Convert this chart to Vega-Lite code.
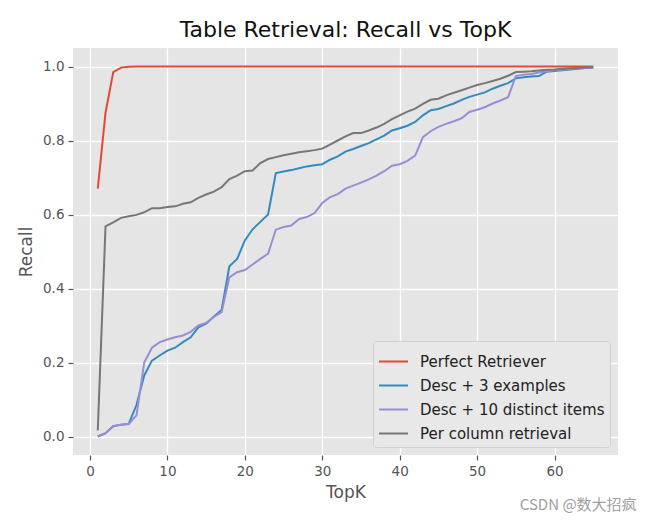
{
  "$schema": "https://vega.github.io/schema/vega-lite/v6.json",
  "autosize": "none",
  "width": 545,
  "height": 407,
  "padding": {"left": 73, "top": 48, "right": 35, "bottom": 69},
  "background": "white",
  "config": {
    "font": "DejaVu Sans",
    "view": {"fill": "#E5E5E5", "stroke": null},
    "axis": {
      "grid": true, "gridColor": "#FFFFFF", "gridWidth": 1.3,
      "domain": false,
      "tickColor": "#555555", "tickSize": 5, "tickWidth": 1.2,
      "labelColor": "#555555", "labelFontSize": 13.5, "labelPadding": 4,
      "titleColor": "#555555", "titleFontSize": 17, "titleFontWeight": "normal"
    }
  },
  "title": {"text": "Table Retrieval: Recall vs TopK", "fontSize": 22, "fontWeight": "normal", "color": "#111111", "offset": 6, "anchor": "middle"},
  "layer": [
    {
      "data": {"values": [
        {"k":1,"pr":0.67,"d3":0.0,"d10":0.0,"pc":0.016},
        {"k":2,"pr":0.875,"d3":0.009,"d10":0.009,"pc":0.568},
        {"k":3,"pr":0.985,"d3":0.028,"d10":0.028,"pc":0.579},
        {"k":4,"pr":0.997,"d3":0.032,"d10":0.032,"pc":0.591},
        {"k":5,"pr":0.999,"d3":0.034,"d10":0.034,"pc":0.595},
        {"k":6,"pr":1.0,"d3":0.085,"d10":0.057,"pc":0.599},
        {"k":7,"pr":1.0,"d3":0.165,"d10":0.2,"pc":0.606},
        {"k":8,"pr":1.0,"d3":0.205,"d10":0.24,"pc":0.617},
        {"k":9,"pr":1.0,"d3":0.219,"d10":0.255,"pc":0.617},
        {"k":10,"pr":1.0,"d3":0.232,"d10":0.262,"pc":0.62},
        {"k":11,"pr":1.0,"d3":0.24,"d10":0.268,"pc":0.622},
        {"k":12,"pr":1.0,"d3":0.255,"d10":0.273,"pc":0.629},
        {"k":13,"pr":1.0,"d3":0.268,"d10":0.283,"pc":0.633},
        {"k":14,"pr":1.0,"d3":0.295,"d10":0.3,"pc":0.645},
        {"k":15,"pr":1.0,"d3":0.305,"d10":0.307,"pc":0.654},
        {"k":16,"pr":1.0,"d3":0.324,"d10":0.323,"pc":0.662},
        {"k":17,"pr":1.0,"d3":0.342,"d10":0.336,"pc":0.674},
        {"k":18,"pr":1.0,"d3":0.46,"d10":0.43,"pc":0.696},
        {"k":19,"pr":1.0,"d3":0.48,"d10":0.444,"pc":0.705},
        {"k":20,"pr":1.0,"d3":0.53,"d10":0.45,"pc":0.717},
        {"k":21,"pr":1.0,"d3":0.56,"d10":0.465,"pc":0.719},
        {"k":22,"pr":1.0,"d3":0.58,"d10":0.48,"pc":0.739},
        {"k":23,"pr":1.0,"d3":0.6,"d10":0.494,"pc":0.75},
        {"k":24,"pr":1.0,"d3":0.712,"d10":0.559,"pc":0.755},
        {"k":25,"pr":1.0,"d3":0.716,"d10":0.566,"pc":0.76},
        {"k":26,"pr":1.0,"d3":0.72,"d10":0.57,"pc":0.764},
        {"k":27,"pr":1.0,"d3":0.725,"d10":0.588,"pc":0.768},
        {"k":28,"pr":1.0,"d3":0.73,"d10":0.593,"pc":0.771},
        {"k":29,"pr":1.0,"d3":0.733,"d10":0.604,"pc":0.774},
        {"k":30,"pr":1.0,"d3":0.736,"d10":0.631,"pc":0.778},
        {"k":31,"pr":1.0,"d3":0.748,"d10":0.647,"pc":0.789},
        {"k":32,"pr":1.0,"d3":0.757,"d10":0.655,"pc":0.8},
        {"k":33,"pr":1.0,"d3":0.77,"d10":0.67,"pc":0.811},
        {"k":34,"pr":1.0,"d3":0.777,"d10":0.678,"pc":0.82},
        {"k":35,"pr":1.0,"d3":0.785,"d10":0.686,"pc":0.82},
        {"k":36,"pr":1.0,"d3":0.793,"d10":0.695,"pc":0.827},
        {"k":37,"pr":1.0,"d3":0.803,"d10":0.705,"pc":0.835},
        {"k":38,"pr":1.0,"d3":0.813,"d10":0.717,"pc":0.845},
        {"k":39,"pr":1.0,"d3":0.827,"d10":0.732,"pc":0.858},
        {"k":40,"pr":1.0,"d3":0.833,"d10":0.736,"pc":0.868},
        {"k":41,"pr":1.0,"d3":0.84,"d10":0.745,"pc":0.878},
        {"k":42,"pr":1.0,"d3":0.85,"d10":0.759,"pc":0.886},
        {"k":43,"pr":1.0,"d3":0.868,"d10":0.809,"pc":0.899},
        {"k":44,"pr":1.0,"d3":0.882,"d10":0.825,"pc":0.91},
        {"k":45,"pr":1.0,"d3":0.885,"d10":0.837,"pc":0.913},
        {"k":46,"pr":1.0,"d3":0.893,"d10":0.845,"pc":0.922},
        {"k":47,"pr":1.0,"d3":0.9,"d10":0.852,"pc":0.929},
        {"k":48,"pr":1.0,"d3":0.91,"d10":0.86,"pc":0.936},
        {"k":49,"pr":1.0,"d3":0.918,"d10":0.877,"pc":0.943},
        {"k":50,"pr":1.0,"d3":0.924,"d10":0.883,"pc":0.95},
        {"k":51,"pr":1.0,"d3":0.93,"d10":0.89,"pc":0.955},
        {"k":52,"pr":1.0,"d3":0.94,"d10":0.9,"pc":0.961},
        {"k":53,"pr":1.0,"d3":0.948,"d10":0.908,"pc":0.967},
        {"k":54,"pr":1.0,"d3":0.955,"d10":0.917,"pc":0.975},
        {"k":55,"pr":1.0,"d3":0.968,"d10":0.974,"pc":0.985},
        {"k":56,"pr":1.0,"d3":0.971,"d10":0.978,"pc":0.986},
        {"k":57,"pr":1.0,"d3":0.973,"d10":0.98,"pc":0.987},
        {"k":58,"pr":1.0,"d3":0.974,"d10":0.984,"pc":0.989},
        {"k":59,"pr":1.0,"d3":0.986,"d10":0.987,"pc":0.991},
        {"k":60,"pr":1.0,"d3":0.988,"d10":0.99,"pc":0.992},
        {"k":61,"pr":1.0,"d3":0.99,"d10":0.992,"pc":0.994},
        {"k":62,"pr":1.0,"d3":0.992,"d10":0.994,"pc":0.995},
        {"k":63,"pr":1.0,"d3":0.994,"d10":0.995,"pc":0.996},
        {"k":64,"pr":1.0,"d3":0.996,"d10":0.996,"pc":0.997},
        {"k":65,"pr":1.0,"d3":0.997,"d10":0.997,"pc":0.998}
      ]},
      "transform": [{"fold": ["pr", "d3", "d10", "pc"], "as": ["method", "recall"]}],
      "mark": {"type": "line", "strokeWidth": 2, "clip": true},
      "encoding": {
        "x": {"field": "k", "type": "quantitative",
              "scale": {"domain": [-2.2, 68.2], "nice": false, "zero": false},
              "axis": {"values": [0, 10, 20, 30, 40, 50, 60], "title": "TopK", "titlePadding": 7}},
        "y": {"field": "recall", "type": "quantitative",
              "scale": {"domain": [-0.05, 1.05], "nice": false, "zero": false},
              "axis": {"values": [0, 0.2, 0.4, 0.6, 0.8, 1.0], "format": ".1f", "title": "Recall", "titlePadding": 7}},
        "color": {"field": "method", "type": "nominal",
                  "scale": {"domain": ["pr", "d3", "d10", "pc"], "range": ["#E24A33", "#348ABD", "#988ED5", "#777777"]},
                  "legend": {
                    "title": null, "orient": "bottom-right", "offset": 8,
                    "labelExpr": "{'pr':'Perfect Retriever','d3':'Desc + 3 examples','d10':'Desc + 10 distinct items','pc':'Per column retrieval'}[datum.label]",
                    "symbolType": "stroke", "symbolSize": 841, "symbolStrokeWidth": 2,
                    "labelFontSize": 15, "labelColor": "#222222", "labelOffset": 11, "labelLimit": 400,
                    "rowPadding": -7, "padding": 5,
                    "fillColor": "#E8E8E8", "strokeColor": "#D0D0D0", "cornerRadius": 3
                  }},
        "order": {"field": "k", "type": "quantitative"}
      }
    },
    {
      "data": {"values": [{"t": "CSDN @数大招疯"}]},
      "mark": {"type": "text", "align": "right", "baseline": "middle", "fontSize": 15, "color": "#A0A0A0", "clip": false, "font": "Noto Sans CJK SC"},
      "encoding": {
        "text": {"field": "t"},
        "x": {"datum": 70.6, "type": "quantitative"},
        "y": {"datum": -0.186, "type": "quantitative"}
      }
    }
  ]
}
